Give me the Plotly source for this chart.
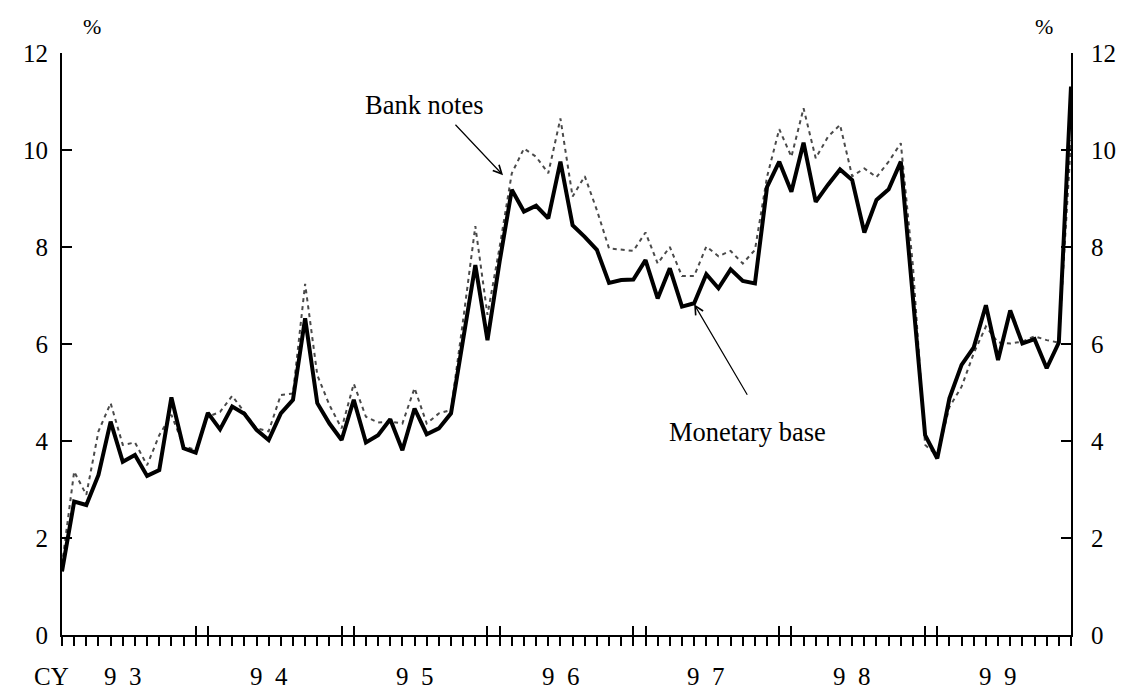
import plotly.graph_objects as go

# ---------------- data (monthly, Jan 1993 - Dec 1999) ----------------
month_index = list(range(84))
year_labels = ["9\u20023", "9\u20024", "9\u20025", "9\u20026", "9\u20027", "9\u20028", "9\u20029"]

monetary_base = [
    1.31, 2.75, 2.68, 3.30, 4.40, 3.57, 3.71, 3.28, 3.40, 4.90, 3.85, 3.76,
    4.58, 4.24, 4.71, 4.56, 4.23, 4.02, 4.57, 4.85, 6.53, 4.78, 4.36, 4.02,
    4.85, 3.97, 4.12, 4.45, 3.81, 4.67, 4.14, 4.26, 4.57, 6.10, 7.63, 6.08,
    7.70, 9.18, 8.73, 8.85, 8.59, 9.76, 8.45, 8.21, 7.94, 7.26, 7.32, 7.33,
    7.73, 6.94, 7.56, 6.77, 6.84, 7.44, 7.15, 7.54, 7.30, 7.25, 9.24, 9.76,
    9.14, 10.15, 8.93, 9.28, 9.60, 9.38, 8.30, 8.97, 9.19, 9.76, 7.00, 4.12,
    3.64, 4.88, 5.57, 5.93, 6.80, 5.67, 6.69, 6.01, 6.10, 5.50, 6.03, 11.31,
]

bank_notes = [
    1.45, 3.37, 2.89, 4.20, 4.78, 3.92, 3.97, 3.50, 4.12, 4.54, 3.90, 3.81,
    4.50, 4.60, 4.93, 4.60, 4.26, 4.20, 4.95, 4.98, 7.24, 5.36, 4.74, 4.26,
    5.18, 4.50, 4.38, 4.40, 4.36, 5.09, 4.36, 4.57, 4.64, 6.50, 8.43, 6.60,
    8.00, 9.52, 10.03, 9.86, 9.52, 10.65, 9.04, 9.46, 8.76, 7.97, 7.94, 7.92,
    8.30, 7.66, 8.00, 7.40, 7.40, 8.01, 7.81, 7.92, 7.66, 7.94, 9.45, 10.43,
    9.86, 10.86, 9.83, 10.27, 10.52, 9.46, 9.62, 9.44, 9.76, 10.14, 7.60, 3.92,
    3.70, 4.70, 5.12, 5.81, 6.36, 6.03, 6.01, 6.05, 6.16, 6.08, 6.03, 10.20,
]

y_ticks = [0, 2, 4, 6, 8, 10, 12]

# year boundary ticks (Dec and Jan of adjacent years)
boundary_ticks = []
for k in range(1, len(year_labels)):
    boundary_ticks += [12 * k - 1, 12 * k]

FONT = "Liberation Serif"
x_max = month_index[-1]

fig = go.Figure()
fig.add_trace(go.Scatter(
    x=month_index, y=bank_notes, mode="lines", name="Bank notes",
    line=dict(color="#4a4a4a", width=2, dash="4px,4px"), hoverinfo="skip"))
fig.add_trace(go.Scatter(
    x=month_index, y=monetary_base, mode="lines", name="Monetary base",
    line=dict(color="black", width=4), hoverinfo="skip"))
# invisible helper trace so that the overlay axes render
fig.add_trace(go.Scatter(x=month_index, y=monetary_base, xaxis="x2", yaxis="y2",
                         mode="lines", line=dict(width=0), opacity=0,
                         hoverinfo="skip", showlegend=False))

axis_common = dict(showgrid=False, zeroline=False, color="black")
TICKFONT = dict(family=FONT, size=25, color="black")

fig.update_layout(
    width=1120, height=683,
    margin=dict(l=54, r=54, t=45, b=56),
    paper_bgcolor="white", plot_bgcolor="white",
    showlegend=False,
    font=dict(family=FONT, size=24, color="black"),
    xaxis=dict(range=[0, x_max], tickvals=month_index, ticks="outside",
               ticklen=9, tickwidth=1.5, tickcolor="black",
               showticklabels=False, showline=True, linewidth=2,
               linecolor="black", **axis_common),
    xaxis2=dict(range=[0, x_max], overlaying="x", anchor="y", side="bottom",
                tickvals=boundary_ticks, ticks="inside", ticklen=9,
                tickwidth=1.5, tickcolor="black", showticklabels=False,
                showline=False, **axis_common),
    yaxis=dict(range=[0, 12], tickvals=y_ticks, ticks="inside", ticklen=10,
               tickwidth=1.5, tickcolor="black", showline=True, linewidth=2,
               linecolor="black", ticklabelstandoff=7, tickfont=TICKFONT,
               **axis_common),
    yaxis2=dict(range=[0, 12], tickvals=y_ticks, overlaying="y", side="right",
                anchor="x", ticks="inside", ticklen=10, tickwidth=1.5,
                tickcolor="black", showline=True, linewidth=2,
                linecolor="black", ticklabelstandoff=13, tickfont=TICKFONT,
                **axis_common),
)

annotations = []
# year labels (box bottom kept inside the figure)
for k, lab in enumerate(year_labels):
    annotations.append(dict(x=12 * k + 5.5, y=0, xref="x", yref="paper",
                            text=lab, showarrow=False, xanchor="center",
                            yanchor="bottom", yshift=-56, xshift=-6, borderpad=0,
                            font=dict(family=FONT, size=25, color="black")))
annotations.append(dict(x=-0.01, y=0, xref="paper", yref="paper", text="CY",
                        showarrow=False, xanchor="center", yanchor="bottom",
                        yshift=-56, borderpad=0,
                        font=dict(family=FONT, size=25, color="black")))
# percent signs
annotations.append(dict(x=0.0296, y=1.0447, xref="paper", yref="paper", text="%",
                        showarrow=False, xanchor="center", yanchor="middle",
                        font=dict(family=FONT, size=22, color="black")))
annotations.append(dict(x=0.973, y=1.0447, xref="paper", yref="paper", text="%",
                        showarrow=False, xanchor="center", yanchor="middle",
                        font=dict(family=FONT, size=22, color="black")))
# series labels + arrows
annotations.append(dict(x=29.8, y=10.93, xref="x", yref="y", text="Bank notes",
                        showarrow=False, xanchor="center", yanchor="middle",
                        font=dict(family=FONT, size=26.5, color="black")))
annotations.append(dict(x=36.28, y=9.48, xref="x", yref="y", text="",
                        showarrow=True, ax=-49, ay=-52, arrowhead=5,
                        arrowsize=1.4, arrowwidth=1.2, arrowcolor="black"))
annotations.append(dict(x=56.4, y=4.19, xref="x", yref="y", text="Monetary base",
                        showarrow=False, xanchor="center", yanchor="middle",
                        font=dict(family=FONT, size=26.5, color="black")))
annotations.append(dict(x=52.0, y=6.82, xref="x", yref="y", text="",
                        showarrow=True, ax=54, ay=92, arrowhead=5,
                        arrowsize=1.4, arrowwidth=1.2, arrowcolor="black"))
fig.update_layout(annotations=annotations)

fig.write_html("out.html")
